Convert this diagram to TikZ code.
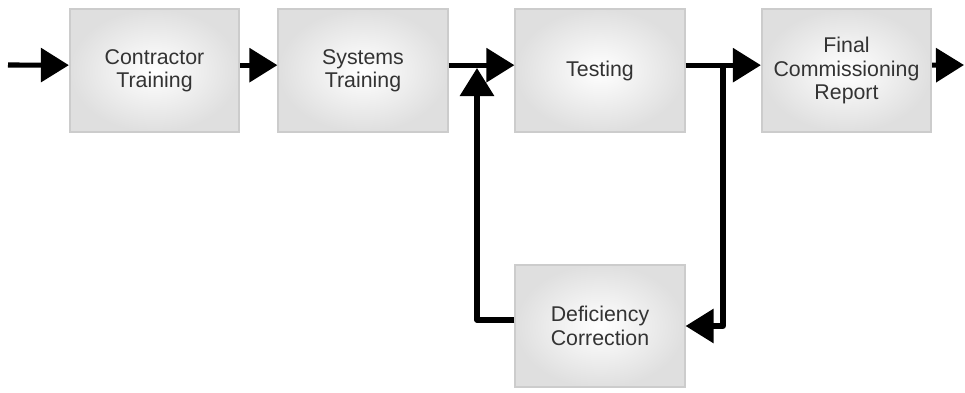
\documentclass[tikz,border=0pt]{standalone}
\usepackage{fontspec}
\setmainfont{Liberation Sans}
\usetikzlibrary{arrows.meta}
\tikzset{
  box/.style={draw=gray!40, line width=1.4pt, inner color=white, outer color=gray!25,
    minimum width=127pt, minimum height=92pt, align=center, text=black!80,
    font=\fontsize{16pt}{17.5pt}\selectfont},
  flow/.style={line width=3.8pt, line join=round, -{Triangle[length=21pt,width=25pt]}}
}
\begin{document}
\begin{tikzpicture}[x=0.75pt,y=-0.75pt]
\useasboundingbox (0,0) rectangle (965,393);
\node[box] (b1) at (154.5,70.5) {Contractor\\Training};
\node[box] (b2) at (363,70.5) {Systems\\Training};
\node[box] (b3) at (600,70.5) {Testing};
\node[box] (b4) at (846.5,70.5) {Final\\Commissioning\\Report};
\node[box] (b5) at (600,326) {Deficiency\\Correction};
\coordinate (in) at (8,65);
\coordinate (out) at (964,65);
\coordinate (fbtop) at (477,68);
\coordinate (split) at (723,65);
\draw[flow] (in) -- ([yshift=4pt]b1.west);
\draw[flow] ([yshift=4pt]b1.east) -- ([yshift=4pt]b2.west);
\draw[flow] ([yshift=4pt]b2.east) -- ([yshift=4pt]b3.west);
\draw[flow] ([yshift=4pt]b3.east) -- ([yshift=4pt]b4.west);
\draw[flow] ([yshift=4pt]b4.east) -- (out);
\draw[flow] ([yshift=4.5pt]b5.west) -| (fbtop);
\draw[flow] (split) |- (b5.east);
\end{tikzpicture}
\end{document}
